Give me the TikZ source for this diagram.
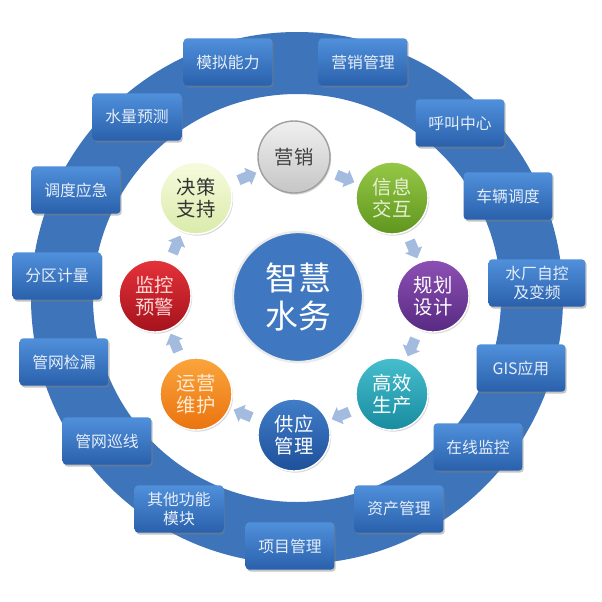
\documentclass[tikz,border=0pt]{standalone}
\usepackage{fontspec}
\newfontfamily\cjk{Noto Sans CJK SC}
\usetikzlibrary{shapes.arrows,shadows}

\definecolor{ringblue}{HTML}{3D74BA}
\definecolor{boxtop}{HTML}{5090DA}
\definecolor{boxbot}{HTML}{2A60AC}
\definecolor{boxtext}{HTML}{E6EEF9}
\definecolor{flowblue}{HTML}{A3BBDF}
\definecolor{hubblue}{HTML}{3F78C0}

\tikzset{
	module/.style={shape=rectangle, rounded corners=3pt, minimum width=2.66cm,
		minimum height=1.42cm, inner sep=1pt, top color=boxtop, bottom color=boxbot,
		text=boxtext, align=center, font=\cjk\fontsize{13.5}{15.5}\selectfont,
		drop shadow={shadow xshift=1.2pt, shadow yshift=-1.6pt, opacity=0.45}},
	stage/.style={circle, minimum size=2.16cm, inner sep=0pt, draw=white,
		line width=1.2pt, align=center, text=white,
		font=\cjk\fontsize{16.5}{18.5}\selectfont,
		drop shadow={shadow xshift=1pt, shadow yshift=-1.4pt, opacity=0.3}},
	flow/.style={single arrow, fill=flowblue, minimum height=0.58cm,
		inner sep=0.15cm, single arrow head extend=0.12cm,
		midway, sloped, allow upside down}
}

\begin{document}
\begin{tikzpicture}[x=0.03cm, y=-0.03cm]
				% Background and ring:
				\fill[white] (0, 0) rectangle (602, 602);
				\fill[ringblue, even odd rule] (297, 298) circle[radius=266]
				(297, 298) circle[radius=204];
				% Modules on the ring:
				\node[module] (moni) at (228, 62){模拟能力};
				\node[module] (yingxiaogl) at (363, 62){营销管理};
				\node[module] (shuiliang) at (137, 117){水量预测};
				\node[module] (hujiao) at (460, 123){呼叫中心};
				\node[module] (diaodu) at (76, 190){调度应急};
				\node[module] (cheliang) at (508, 196){车辆调度};
				\node[module] (fenqu) at (57, 276){分区计量};
				\node[module, minimum width=2.9cm] (shuichang) at (537, 283){水厂自控\\及变频};
				\node[module] (jianlou) at (64, 362){管网检漏};
				\node[module] (gis) at (521, 368){GIS应用};
				\node[module] (xunxian) at (107, 441){管网巡线};
				\node[module] (zaixian) at (478, 447){在线监控};
				\node[module] (qita) at (179, 509){其他功能\\模块};
				\node[module] (zichan) at (399, 509){资产管理};
				\node[module] (xiangmu) at (290, 546){项目管理};
				% Hub and stages:
				\node[circle, minimum size=3.9cm, fill=hubblue, draw=white!92!black,
				line width=2pt, text=white, align=center,
				font=\cjk\fontsize{28}{32}\selectfont,
				drop shadow={shadow xshift=0.8pt, shadow yshift=-1pt, opacity=0.2}]
				(hub) at (298, 297){智慧\\水务};
				\node[stage, top color=gray!12, bottom color=gray!45, draw=gray!75,
				text=black!75] (yingxiao) at (294, 157){营销};
				\node[stage, top color={rgb,255:red,150;green,200;blue,70},
				bottom color={rgb,255:red,95;green,150;blue,30},
				text={rgb,255:red,230;green,240;blue,215}] (xinxi) at (392, 198){信息\\交互};
				\node[stage, top color={rgb,255:red,140;green,80;blue,180},
				bottom color={rgb,255:red,88;green,42;blue,130}] (guihua) at (433, 296){规划\\设计};
				\node[stage, top color={rgb,255:red,70;green,190;blue,205},
				bottom color={rgb,255:red,25;green,140;blue,160}] (gaoxiao) at (392, 394){高效\\生产};
				\node[stage, top color={rgb,255:red,65;green,125;blue,200},
				bottom color={rgb,255:red,30;green,80;blue,155}] (gongying) at (294, 435){供应\\管理};
				\node[stage, top color={rgb,255:red,250;green,165;blue,60},
				bottom color={rgb,255:red,235;green,115;blue,15},
				text={rgb,255:red,255;green,235;blue,210}] (yunying) at (196, 394){运营\\维护};
				\node[stage, top color={rgb,255:red,228;green,50;blue,58},
				bottom color={rgb,255:red,165;green,18;blue,28},
				text={rgb,255:red,255;green,215;blue,215}] (jiankong) at (155, 296){监控\\预警};
				\node[stage, top color={rgb,255:red,246;green,251;blue,222},
				bottom color={rgb,255:red,218;green,235;blue,170}, draw=white,
				text=black!80] (juece) at (196, 198){决策\\支持};
				% Flow arrows between stages:
				\path (juece) -- node[flow]{} (yingxiao);
				\path (yingxiao) -- node[flow]{} (xinxi);
				\path (xinxi) -- node[flow]{} (guihua);
				\path (guihua) -- node[flow]{} (gaoxiao);
				\path (gaoxiao) -- node[flow]{} (gongying);
				\path (gongying) -- node[flow]{} (yunying);
				\path (yunying) -- node[flow]{} (jiankong);
				\path (jiankong) -- node[flow]{} (juece);
			\end{tikzpicture}
\end{document}
